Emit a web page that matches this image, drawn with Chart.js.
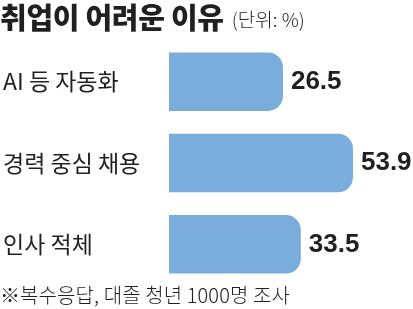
<!DOCTYPE html>
<html>
<head>
<meta charset="utf-8">
<script src="https://cdn.jsdelivr.net/npm/chart.js@4"></script>
<style>
  html, body { margin: 0; padding: 0; background: #fff; }
  #wrap { position: relative; width: 413px; height: 309px; overflow: hidden; }
  #reasonChart { position: absolute; left: 0; top: 0; }
  .title { position: absolute; left: 0; top: -5px; font-family: "Noto Sans CJK KR"; font-weight: 900; font-size: 29px; color: #231f20; white-space: nowrap; letter-spacing: -0.3px; }
  .title span { font-weight: 300; font-size: 19px; letter-spacing: 0; margin-left: 8px; color: #231f20; vertical-align: 2px; }
  .note { position: absolute; left: 0; top: 280px; font-family: "Noto Sans CJK KR"; font-weight: 300; font-size: 20px; color: #231f20; white-space: nowrap; letter-spacing: 0.1px; }
</style>
</head>
<body>
<div id="wrap">
  <canvas id="reasonChart" width="413" height="309"></canvas>
  <div class="title">취업이 어려운 이유<span>(단위: %)</span></div>
  <div class="note">※복수응답, 대졸 청년 1000명 조사</div>
</div>
<script>
const labels = ['AI 등 자동화', '경력 중심 채용', '인사 적체'];
const values = [26.5, 53.9, 33.5];

// draws the number to the right of each bar
const valueLabels = {
    id: 'valueLabels',
    afterDatasetsDraw(chart) {
        const ctx = chart.ctx;
        const meta = chart.getDatasetMeta(0);
        ctx.save();
        ctx.font = 'bold 26px "Liberation Sans"';
        ctx.fillStyle = '#231f20';
        ctx.textAlign = 'left';
        ctx.textBaseline = 'middle';
        meta.data.forEach((bar, i) => {
            ctx.fillText(values[i].toFixed(1), bar.x + 8, bar.y);
        });
        ctx.restore();
    }
};

const ctx = document.getElementById('reasonChart').getContext('2d');
const reasonChart = new Chart(ctx, {
    type: 'bar',
    data: {
        labels: labels,
        datasets: [{
            data: values,
            base: -18.1,
            backgroundColor: '#7aacdc',
            borderSkipped: false,
            borderRadius: { topLeft: 0, bottomLeft: 0, topRight: 15, bottomRight: 15 },
            barPercentage: 0.72,
            categoryPercentage: 1
        }]
    },
    options: {
        indexAxis: 'y',
        responsive: false,
        animation: false,
        layout: { padding: { left: 3, top: 41, bottom: 24, right: 0 } },
        plugins: {
            legend: { display: false },
            tooltip: { enabled: false }
        },
        scales: {
            x: {
                display: false,
                min: -18.1,
                max: 77.4
            },
            y: {
                grid: { display: false },
                border: { display: false },
                afterFit(scale) { scale.width = 166; },
                ticks: {
                    crossAlign: 'far',
                    padding: 0,
                    color: '#231f20',
                    font: { family: '"Noto Sans CJK KR"', size: 23 }
                }
            }
        }
    },
    plugins: [valueLabels]
});
</script>
</body>
</html>
